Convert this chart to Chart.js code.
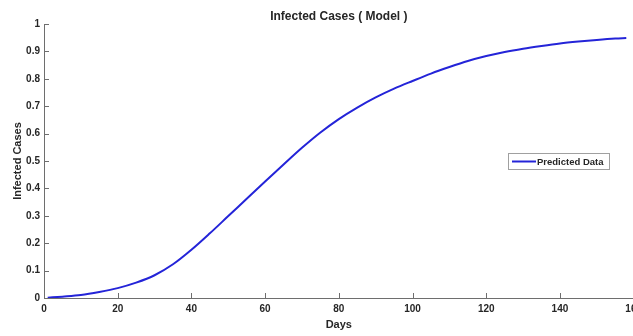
<!DOCTYPE html>
<html>
<head>
<meta charset="utf-8">
<script src="https://cdn.jsdelivr.net/npm/chart.js@4.4.0/dist/chart.umd.min.js"></script>
<style>
  html, body { margin: 0; padding: 0; background: #fff; overflow: hidden; }
  #wrap { width: 647px; height: 336px; }
</style>
</head>
<body>
<div id="wrap"><canvas id="chart" width="647" height="336"></canvas></div>
<script>
// values
const days = [1, 5, 10, 15, 20, 25, 30, 35, 40, 45, 50, 55, 60, 65, 70, 75, 80, 85, 90, 95,
  100, 105, 110, 115, 120, 125, 130, 135, 140, 145, 150, 155, 158];
const infected = [0.001, 0.005, 0.011, 0.022, 0.036, 0.056, 0.083, 0.123, 0.176, 0.236, 0.299,
  0.362, 0.425, 0.487, 0.548, 0.604, 0.653, 0.695, 0.732, 0.764, 0.792, 0.819, 0.843, 0.865,
  0.883, 0.898, 0.910, 0.920, 0.929, 0.936, 0.942, 0.947, 0.949];
const xTicks = [0, 20, 40, 60, 80, 100, 120, 140, 160];
const yTicks = [0, 0.1, 0.2, 0.3, 0.4, 0.5, 0.6, 0.7, 0.8, 0.9, 1];

const chartTitle = "Infected Cases ( Model )";
const seriesLabel = "Predicted Data";
const lineColor = "#2424d8";
const textColor = "#262626";
const axisColor = "#6e6e6e";
const fontFamily = "'Liberation Sans', Arial, sans-serif";

// MATLAB style: ticks inside, title over plot area, legend box inside
const matlabLook = {
  id: "matlabLook",
  afterDraw(chart) {
    const ctx = chart.ctx;
    const area = chart.chartArea;
    const xs = chart.scales.x, ys = chart.scales.y;
    ctx.save();
    ctx.strokeStyle = axisColor;
    ctx.lineWidth = 1;
    ctx.beginPath();
    xTicks.forEach(v => {
      const px = Math.round(xs.getPixelForValue(v)) + 0.5;
      ctx.moveTo(px, area.bottom);
      ctx.lineTo(px, area.bottom - 5);
    });
    yTicks.forEach(v => {
      const py = Math.round(ys.getPixelForValue(v)) + 0.5;
      ctx.moveTo(area.left, py);
      ctx.lineTo(area.left + 5, py);
    });
    ctx.stroke();

    // title
    ctx.fillStyle = textColor;
    ctx.font = "bold 12px " + fontFamily;
    ctx.textAlign = "center";
    ctx.textBaseline = "middle";
    ctx.fillText(chartTitle, (area.left + area.right) / 2, 17);

    // legend box
    const lx = 508, ly = 153, lw = 101, lh = 16;
    ctx.fillStyle = "#fff";
    ctx.fillRect(lx, ly, lw, lh);
    ctx.strokeStyle = "#a0a0a0";
    ctx.strokeRect(lx + 0.5, ly + 0.5, lw, lh);
    ctx.strokeStyle = lineColor;
    ctx.lineWidth = 2;
    ctx.beginPath();
    ctx.moveTo(lx + 4, ly + 8.5);
    ctx.lineTo(lx + 28, ly + 8.5);
    ctx.stroke();
    ctx.fillStyle = textColor;
    ctx.font = "bold 9.5px " + fontFamily;
    ctx.textAlign = "left";
    ctx.fillText(chart.data.datasets[0].label, lx + 29, ly + 9);
    ctx.restore();
  }
};

new Chart(document.getElementById("chart"), {
  type: "line",
  data: {
    datasets: [{
      label: seriesLabel,
      data: days.map((d, i) => ({ x: d, y: infected[i] })),
      borderColor: lineColor,
      borderWidth: 2,
      pointRadius: 0,
      fill: false,
      cubicInterpolationMode: "monotone"
    }]
  },
  options: {
    responsive: false,
    animation: false,
    layout: { padding: { left: 6, top: 24, right: 0, bottom: 0 } },
    plugins: {
      legend: { display: false },
      title: { display: false },
      tooltip: { enabled: false }
    },
    scales: {
      x: {
        type: "linear",
        min: 0,
        max: 160,
        afterBuildTicks: axis => { axis.ticks = xTicks.map(v => ({ value: v })); },
        afterFit: axis => { axis.height = 38; },
        grid: { display: false, drawTicks: false },
        border: { display: true, color: axisColor, width: 1 },
        ticks: {
          color: textColor,
          padding: 5,
          maxRotation: 0,
          font: { family: fontFamily, size: 10, weight: "bold" }
        },
        title: {
          display: true,
          text: "Days",
          color: textColor,
          padding: { top: 0, bottom: 4 },
          font: { family: fontFamily, size: 11, weight: "bold" }
        }
      },
      y: {
        min: 0,
        max: 1,
        afterBuildTicks: axis => { axis.ticks = yTicks.map(v => ({ value: v })); },
        afterFit: axis => { axis.width = 38; },
        grid: { display: false, drawTicks: false },
        border: { display: true, color: axisColor, width: 1 },
        ticks: {
          color: textColor,
          padding: 4,
          callback: v => String(Math.round(v * 10) / 10),
          font: { family: fontFamily, size: 10, weight: "bold" }
        },
        title: {
          display: true,
          text: "Infected Cases",
          color: textColor,
          padding: { top: 5, bottom: 0 },
          font: { family: fontFamily, size: 11, weight: "bold" }
        }
      }
    }
  },
  plugins: [matlabLook]
});
</script>
</body>
</html>
